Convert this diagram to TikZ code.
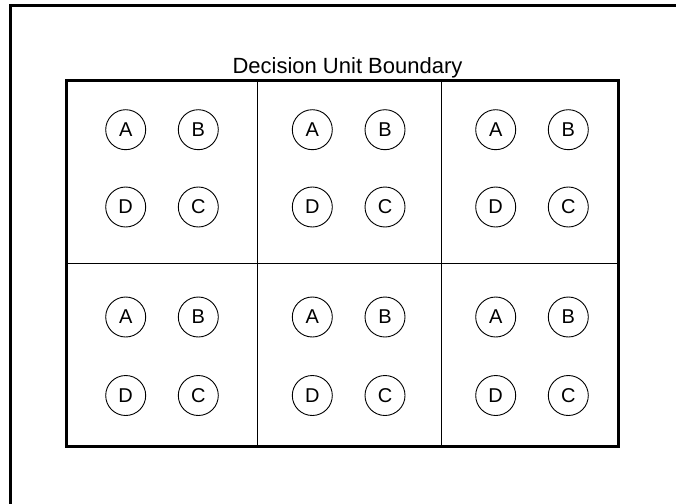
\documentclass[tikz,border=0pt]{standalone}
\usepackage{fontspec}
\setmainfont{Liberation Sans}
\begin{document}
\begin{tikzpicture}[x=1pt,y=-1pt,
  frame/.style={line width=3pt},
  divider/.style={line width=1.1pt},
  unit/.style={circle,draw,line width=0.9pt,minimum size=40pt,inner sep=0pt,font=\fontsize{20}{24}\selectfont},
  title/.style={font=\fontsize{22}{26}\selectfont,anchor=base,inner sep=0pt}]
\useasboundingbox (0,0) rectangle (676,503);
% outer frame (only top and left edges visible)
\coordinate (fb) at (10.5,510);
\coordinate (fc) at (10.5,5.7);
\coordinate (fr) at (680,5.7);
\draw[frame] (fb) -- (fc) -- (fr);
% decision unit boundary
\node[title] (t) at (347.5,74) {Decision Unit Boundary};
\coordinate (b1) at (66.5,80.5);
\coordinate (b2) at (618,446);
\draw[frame] (b1) rectangle (b2);
% dividers
\coordinate (v1t) at (257.3,80.5);
\coordinate (v1b) at (257.3,446);
\coordinate (v2t) at (441.7,80.5);
\coordinate (v2b) at (441.7,446);
\coordinate (hl) at (66.5,263.7);
\coordinate (hr) at (618,263.7);
\draw[divider] (v1t) -- (v1b);
\draw[divider] (v2t) -- (v2b);
\draw[divider] (hl) -- (hr);
% units
\foreach \xa/\xb [count=\c] in {125.7/198.3, 312.3/385, 495.7/568.3} {
  \foreach \ya/\yd [count=\r] in {129.7/207, 317/395.5} {
    \node[unit] (A\c\r) at (\xa,\ya) {A};
    \node[unit] (B\c\r) at (\xb,\ya) {B};
    \node[unit] (D\c\r) at (\xa,\yd) {D};
    \node[unit] (C\c\r) at (\xb,\yd) {C};
  }
}
\end{tikzpicture}
\end{document}
